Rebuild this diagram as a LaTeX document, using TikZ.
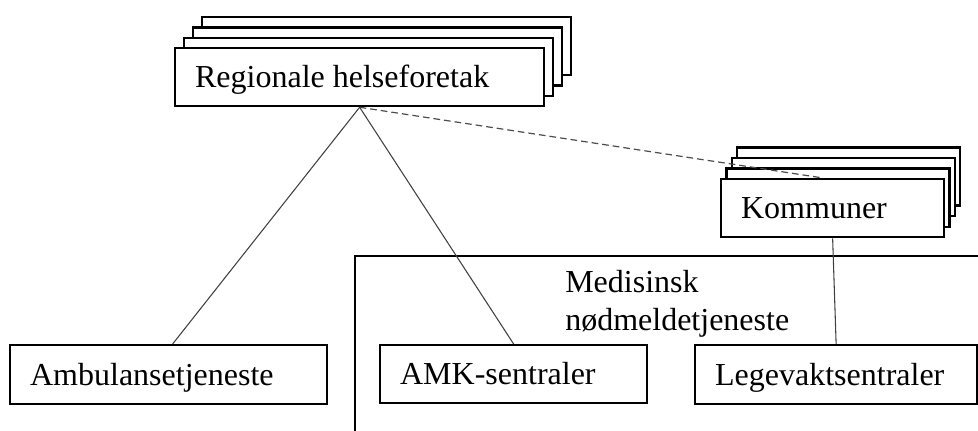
\documentclass[tikz,border=0pt]{standalone}
\usepackage{fontspec}
\setmainfont{Liberation Serif}
\usetikzlibrary{calc}

% left-aligned label of a fixed width
\newcommand\boxtext[2]{\hbox to #1{#2\hfil}}

\tikzset{
  labelfont/.style={font=\fontsize{24}{28.5}\selectfont},
  box/.style={rectangle, draw=black, line width=1.7pt, fill=white,
    anchor=north west, inner xsep=15pt, inner ysep=0pt,
    labelfont, text height=15.9pt, text depth=0pt},
  panel/.style={draw=black, line width=1.5pt},
  link/.style={draw=black!75, line width=0.8pt},
  dashlink/.style={draw=black!70, line width=0.9pt, dash pattern=on 5pt off 3pt},
}

\begin{document}
\begin{tikzpicture}[x=0.75pt,y=-0.75pt]
\useasboundingbox (0,0) rectangle (978,431);
\clip (0,0) rectangle (978,431);

% open frame of the emergency call service
\draw[panel] (355,256) rectangle (1000,470);
\node[labelfont, anchor=base west, align=left, inner sep=0pt] (mnd) at (565,330)
  {Medisinsk\\nødmeldetjeneste};

% stacked regional health trusts
\foreach \i in {3,2,1}
  \node[box, minimum width=276.75pt, minimum height=43.5pt] (regb\i)
    at ({174+8.9*\i},{47-10.3*\i}) {};
\node[box, minimum width=276.75pt, minimum height=43.5pt]
  (reg) at (174,47) {\boxtext{246.75pt}{Regionale helseforetak}};

% stacked municipalities
\foreach \i in {3,2,1}
  \node[box, minimum width=167.25pt, minimum height=43.5pt] (komb\i)
    at ({720+5.3*\i},{178-10.5*\i}) {};

\coordinate (dashend) at (823,178);
\draw[dashlink] (reg.south) -- (dashend);

\node[box, minimum width=167.25pt, minimum height=43.5pt]
  (kom) at (720,178) {\boxtext{137.25pt}{Kommuner}};

% services
\node[box, minimum width=237.75pt, minimum height=44.25pt]
  (amb) at (9,344) {\boxtext{207.75pt}{Ambulansetjeneste}};
\node[box, minimum width=200.25pt, minimum height=43.5pt]
  (amk) at (379,344) {\boxtext{170.25pt}{AMK-sentraler}};
\node[box, minimum width=211.5pt, minimum height=44.25pt]
  (leg) at (694,344) {\boxtext{181.5pt}{Legevaktsentraler}};

% connectors
\draw[link] (reg.south) -- ([xshift=3pt]amb.north);
\draw[link] (reg.south) -- (amk.north);
\draw[link] (kom.south) -- (leg.north);
\end{tikzpicture}
\end{document}
